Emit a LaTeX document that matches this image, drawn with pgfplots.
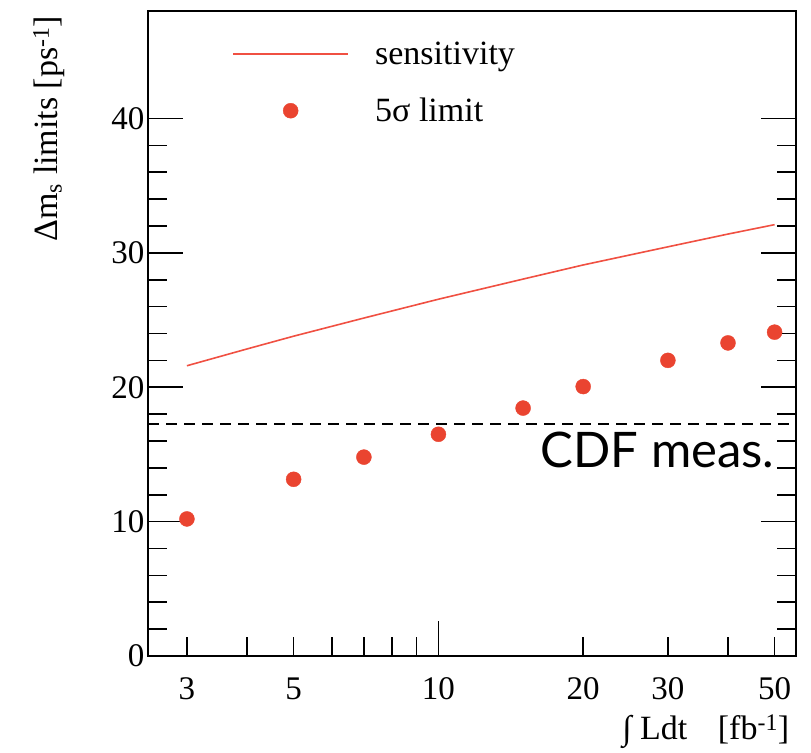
\documentclass[border=0pt]{standalone}
\usepackage{fontspec}
\setmainfont{Liberation Serif}
\newfontfamily\gillfont{Lato}
\usepackage{pgfplots}
\pgfplotsset{compat=1.18}
\definecolor{limred}{RGB}{234,68,48}
\definecolor{senred}{RGB}{240,80,66}
\pgfplotsset{
  linelegend/.style={legend image code/.code={\draw[##1, senred, line width=2pt] (0pt,0pt) -- (115pt,0pt);}},
  dotlegend/.style={legend image code/.code={\draw[mark repeat=2,mark phase=2,##1]
    plot coordinates {(0pt,0pt) (57.5pt,0pt) (115pt,0pt)};}},
}

\begin{document}
\begin{tikzpicture}
\begin{axis}[
  xmode=log, scale only axis, width=648pt, height=645pt,
  xmin=2.49, xmax=55.4, ymin=0, ymax=48,
  xtick={10}, xticklabels={10},
  minor xtick={3,4,5,6,7,8,9,20,30,40,50},
  extra x ticks={3,5,20,30,50}, extra x tick labels={3,5,20,30,50},
  extra x tick style={major tick length=0pt},
  ytick={0,10,20,30,40}, minor y tick num=4,
  xtick pos=bottom, ytick pos=both, tick align=inside,
  major tick length=35pt, minor tick length=19pt,
  axis line style={line width=1.6pt},
  tick style={line width=1.6pt, black},
  font=\rmfamily\fontsize{34}{40}\selectfont,
  tick label style={font=\rmfamily\fontsize{33}{38}\selectfont},
  /pgf/number format/assume math mode=true,
  xticklabel style={yshift=-18pt},
  ylabel={Δm\textsubscript{s} limits [ps\textsuperscript{-1}]},
  ylabel style={at={(axis description cs:-0.139,0.998)}, anchor=base east},
  xlabel={∫ Ldt\hspace{0.9em}[fb\textsuperscript{-1}]},
  xlabel style={at={(axis description cs:0.995,-0.130)}, anchor=base east},
  legend cell align=left,
  legend style={draw=none, fill=none, at={(axis description cs:0.1296,0.952)},
    anchor=north west, inner sep=0pt, row sep=32pt, column sep=26pt,
    nodes={inner sep=0pt}, font=\rmfamily\fontsize{34}{40}\selectfont},
]
\addplot[senred, line width=1.6pt, linelegend]
  coordinates {(3,21.6) (4,22.85) (5,23.8) (7,25.15) (10,26.55) (15,28.05)
    (20,29.1) (30,30.45) (40,31.4) (50,32.1)};
\addlegendentry{sensitivity}
\addplot[only marks, mark=*, mark size=7.5pt, color=limred,
  mark options={draw=none, fill=limred}, dotlegend]
  coordinates {(3,10.2) (5,13.15) (7,14.8) (10,16.5) (15,18.45) (20,20.05)
    (30,22.0) (40,23.3) (50,24.1)};
\addlegendentry{5σ limit}
\addplot[black, line width=1.8pt, dash pattern=on 11pt off 7pt, forget plot]
  coordinates {(2.49,17.25) (55.4,17.25)};
\node[anchor=base east, inner sep=0pt]
  at (axis cs:50,14) {\gillfont\fontsize{49}{52}\selectfont CDF meas.};
\coordinate (bl) at (rel axis cs:0,0);
\coordinate (tr) at (rel axis cs:1,1);
\end{axis}
\path (bl) ++(-148pt,-94pt) coordinate (a);
\path (tr) ++(15pt,11pt) coordinate (b);
\path (a) rectangle (b);
\end{tikzpicture}
\end{document}
